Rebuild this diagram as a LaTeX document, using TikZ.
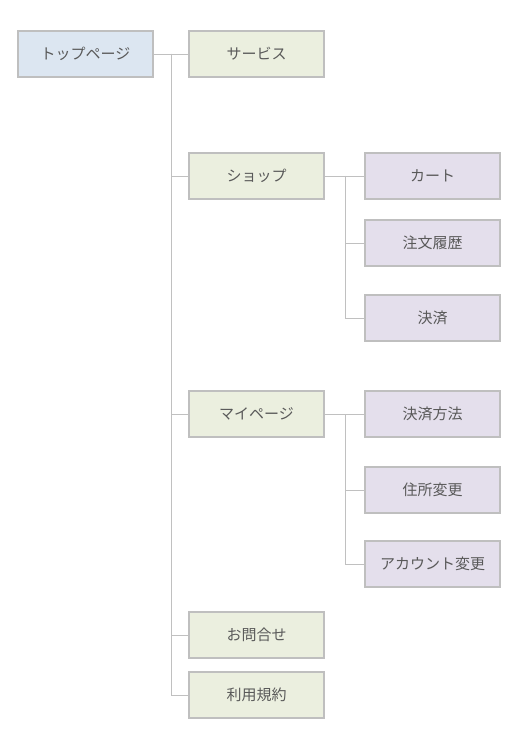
\documentclass[tikz,border=0pt]{standalone}
\usepackage{fontspec}
\setmainfont{Noto Sans CJK JP}
\usepackage{tikz}
\usetikzlibrary{positioning,calc}
\usepackage{xcolor}
\definecolor{boxgrey}{RGB}{191,191,191}
\definecolor{linegrey}{RGB}{192,192,192}
\definecolor{textgrey}{RGB}{89,89,89}
\definecolor{topblue}{RGB}{220,230,241}
\definecolor{pagegreen}{RGB}{235,239,223}
\definecolor{subpurple}{RGB}{228,223,236}

\begin{document}
\begin{tikzpicture}[
    x=1pt, y=-1pt,
    page/.style={rectangle, draw=boxgrey, line width=1.6pt, fill=pagegreen,
        minimum width=135pt, minimum height=46pt, inner sep=0pt,
        text=textgrey, font=\fontsize{15}{17}\selectfont},
    toppage/.style={page, fill=topblue},
    subpage/.style={page, fill=subpurple},
    link/.style={draw=linegrey, line width=0.9pt}
]
\useasboundingbox (0,0) rectangle (517,730);
% top level
\node[toppage] (top) at (85.5,54) {トップページ};
\node[page, right=34.4pt of top] (service) {サービス};
\node[page] (shop) at (256.5,176) {ショップ};
\node[page] (mypage) at (256.5,414) {マイページ};
\node[page] (contact) at (256.5,635) {お問合せ};
\node[page] (terms) at (256.5,695) {利用規約};
% shop pages
\node[subpage, right=39.4pt of shop] (cart) {カート};
\node[subpage] (history) at (432.5,243) {注文履歴};
\node[subpage] (payment) at (432.5,318) {決済};
% my page
\node[subpage, right=39.4pt of mypage] (paymethod) {決済方法};
\node[subpage] (address) at (432.5,490) {住所変更};
\node[subpage] (account) at (432.5,564) {アカウント変更};
% connectors
\coordinate (trunk) at (171,54);
\coordinate (shopj) at (345,176);
\coordinate (myj) at (345,414);
\draw[link] (top.east) -- (service.west);
\foreach \n in {shop,mypage,contact,terms}
    \draw[link] (trunk) |- (\n.west);
\draw[link] (shop.east) -- (cart.west);
\foreach \n in {history,payment}
    \draw[link] (shopj) |- (\n.west);
\draw[link] (mypage.east) -- (paymethod.west);
\foreach \n in {address,account}
    \draw[link] (myj) |- (\n.west);
\end{tikzpicture}
\end{document}
